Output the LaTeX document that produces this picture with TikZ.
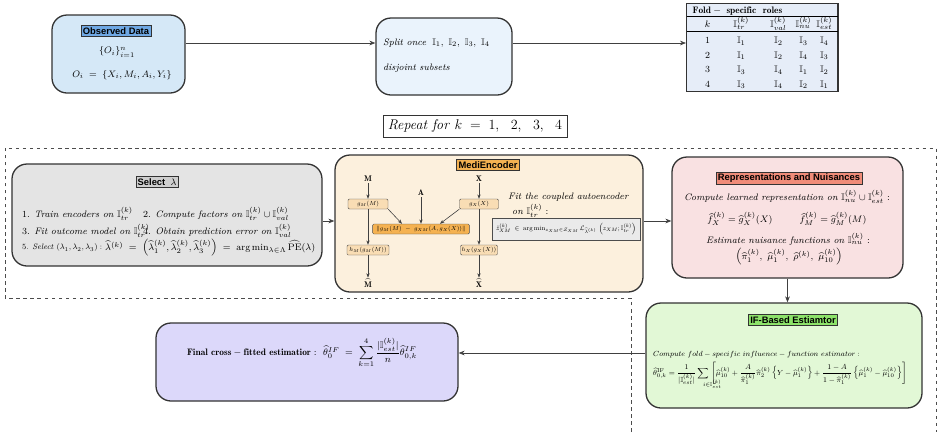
\documentclass[tikz,border=0pt]{standalone}
\usepackage{amsmath,amssymb,mathtools}
\usepackage{graphicx}
\usepackage{booktabs}
\usepackage{fontspec}
\setsansfont{Liberation Sans}
\usetikzlibrary{positioning,arrows.meta,calc}
\definecolor{obsfill}{HTML}{D5E8F7}
\definecolor{obstag}{HTML}{6FA8E4}
\definecolor{splitfill}{HTML}{EAF3FC}
\definecolor{rolefill}{HTML}{E6EDF8}
\definecolor{selfill}{HTML}{E4E4E4}
\definecolor{seltag}{HTML}{CFCFCF}
\definecolor{encfill}{HTML}{FCF0DD}
\definecolor{enctag}{HTML}{F5B251}
\definecolor{encpart}{HTML}{F9DDB4}
\definecolor{fitfill}{HTML}{EAEAEA}
\definecolor{repfill}{HTML}{F9E1E2}
\definecolor{reptag}{HTML}{F08C79}
\definecolor{iffill}{HTML}{E2F8D6}
\definecolor{iftag}{HTML}{8DE36A}
\definecolor{finfill}{HTML}{DCD8FA}
\tikzset{
  stagebox/.style={draw=black!80, line width=1.1pt, rounded corners=4.5mm, inner sep=0pt},
  tagbox/.style={draw=black!80, font=\sffamily\bfseries\footnotesize, inner sep=1.6pt},
  partbox/.style={draw=black!70, rounded corners=1pt, fill=encpart, font=\scriptsize,
    inner sep=1pt, minimum height=3mm},
  flowarrow/.style={-{Stealth[length=1.8mm,width=1.4mm]}, black!75, line width=0.6pt},
  encarrow/.style={-{Stealth[length=1.3mm,width=1mm]}, black!75, line width=0.5pt},
  boxtext/.style={font=\footnotesize, inner sep=0pt},
  varlabel/.style={font=\scriptsize, inner sep=1pt},
}
\newcommand{\foldset}[1]{\mathbb{I}_{#1}^{(k)}}
\newcommand{\partmath}[1]{\scalebox{0.72}{$#1$}}

\begin{document}
\begin{tikzpicture}[x=0.3mm, y=-0.3mm]
  \useasboundingbox (0,0) rectangle (942,432);
  % outline of the per-fold loop
  \draw[dashed, black!70, line width=0.6pt] (631,432) -- (631,298) -- (5,298) -- (5,148) -- (936,148) -- (936,432);

  % top row: data, split, fold roles
  \node[stagebox, fill=obsfill, minimum width=39.9mm, minimum height=23.4mm] (obs) at (118.5,54) {};
  \node[tagbox, fill=obstag] (obstitle) at (116,31) {Observed Data};
  \node[boxtext] (obsall) at (117,52) {$\{O_i\}_{i=1}^{n}$};
  \node[boxtext] (obsone) at (122,75) {$O_i \;=\; \{X_i, M_i, A_i, Y_i\}$};

  \node[stagebox, fill=splitfill, minimum width=40.8mm, minimum height=23.1mm] (split) at (444,56.5) {};
  \node[boxtext, anchor=west] (splitonce) at (383,43) {\textit{Split once} $\;\mathbb{I}_1,\ \mathbb{I}_2,\ \mathbb{I}_3,\ \mathbb{I}_4$};
  \node[boxtext, anchor=west] (splitdis) at (383,68) {\textit{disjoint subsets}};

  \node[draw=black!80, line width=1.1pt, fill=rolefill, inner sep=0pt, font=\footnotesize, anchor=north west] (roles) at (686,3) {%
    \renewcommand{\arraystretch}{1.3}%
    \begin{tabular}{@{\hspace{5.5mm}}c@{\hspace{6.9mm}}c@{\hspace{6.3mm}}c@{\hspace{2.7mm}}c@{\hspace{1.5mm}}c@{\hspace{1.7mm}}}
      \multicolumn{5}{@{\hspace{1.8mm}}l}{$\mathbf{Fold-\ specific\ \ roles}$}\\[-2pt]
      \specialrule{0.9pt}{0pt}{0pt}
      $k$ & $\foldset{tr}$ & $\foldset{val}$ & $\foldset{nu}$ & $\foldset{est}$\\
      \specialrule{0.9pt}{0pt}{1pt}
      1 & $\mathbb{I}_1$ & $\mathbb{I}_2$ & $\mathbb{I}_3$ & $\mathbb{I}_4$\\
      2 & $\mathbb{I}_1$ & $\mathbb{I}_2$ & $\mathbb{I}_4$ & $\mathbb{I}_3$\\
      3 & $\mathbb{I}_3$ & $\mathbb{I}_4$ & $\mathbb{I}_1$ & $\mathbb{I}_2$\\
      4 & $\mathbb{I}_3$ & $\mathbb{I}_4$ & $\mathbb{I}_2$ & $\mathbb{I}_1$
    \end{tabular}};

  \coordinate (toprow) at (0,43);
  \draw[flowarrow] (obs.east |- toprow) -- (split.west |- toprow);
  \draw[flowarrow] (split.east |- toprow) -- (roles.west |- toprow);

  \node[draw=black!80, font=\large, inner sep=2pt, minimum width=55.2mm, minimum height=6.6mm] (repeat) at (475,126) {\textit{Repeat for} $k \;=\; 1,\ \ 2,\ \ 3,\ \ 4$};

  % select lambda
  \node[stagebox, fill=selfill, minimum width=93mm, minimum height=30.6mm] (select) at (167,215) {};
  \node[tagbox, fill=seltag] (seltitle) at (157,182) {Select \ $\lambda$};
  \node[boxtext, anchor=west] (selone) at (22,214) {1. \textit{Train encoders on} $\foldset{tr}$};
  \node[boxtext, anchor=west] (seltwo) at (143,214) {2. \textit{Compute factors on} $\foldset{tr}\cup\foldset{val}$};
  \node[boxtext, anchor=west] (selthree) at (22,231) {3. \textit{Fit outcome model on} $\foldset{tr}$};
  \node[boxtext, anchor=west] (selfour) at (143,231) {4. \textit{Obtain prediction error on} $\foldset{val}$};
  \node[boxtext, anchor=west] (selfive) at (22,248) {\resizebox{24mm}{!}{5. \textit{Select} $(\lambda_1,\lambda_2,\lambda_3):$}};
  \node[boxtext, anchor=west] (selrule) at (105,248) {\resizebox{63mm}{!}{$\widehat{\lambda}^{(k)} \;=\; \left(\widehat{\lambda}_1^{(k)}, \widehat{\lambda}_2^{(k)}, \widehat{\lambda}_3^{(k)}\right) \;=\; \arg\min_{\lambda\in\Lambda}\widehat{\mathrm{PE}}(\lambda)$}};

  % MediEncoder
  \node[stagebox, fill=encfill, minimum width=92.4mm, minimum height=41.1mm] (enc) at (489,223.5) {};
  \node[tagbox, fill=enctag] (enctitle) at (488,165) {MediEncoder};
  \node[varlabel] (mvar) at (368,179) {$\mathbf{M}$};
  \node[varlabel] (xvar) at (479,179) {$\mathbf{X}$};
  \node[varlabel] (avar) at (421,193) {$\mathbf{A}$};
  \node[partbox, minimum width=12mm] (gm) at (368,204) {\partmath{g_M(M)}};
  \node[partbox, minimum width=11.7mm] (gx) at (479,204) {\partmath{g_X(X)}};
  \node[partbox, fill=enctag, minimum width=29mm] (gap) at (421,229) {\partmath{\|g_M(M)\;-\;g_{XM}(A, g_X(X))\|}};
  \node[partbox, minimum width=12.6mm] (hm) at (368,250) {\partmath{h_M(g_M(M))}};
  \node[partbox, minimum width=10.8mm] (hx) at (479,250) {\partmath{h_X(g_X(X))}};
  \node[varlabel] (mhat) at (368,283) {$\widehat{\mathbf{M}}$};
  \node[varlabel] (xhat) at (479,283) {$\widehat{\mathbf{X}}$};
  \draw[encarrow] (mvar) -- (gm);
  \draw[encarrow] (xvar) -- (gx);
  \draw[encarrow] (avar) -- (gap);
  \draw[encarrow] (gm.south east) -- ([xshift=-5.7mm]gap.north);
  \draw[encarrow] (gx.south west) -- ([xshift=5.7mm]gap.north);
  \draw[encarrow] (gm) -- (hm);
  \draw[encarrow] (gx) -- (hx);
  \draw[encarrow] (hm) -- (mhat);
  \draw[encarrow] (hx) -- (xhat);
  \node[boxtext, anchor=west] (fittext) at (508,197) {\textit{Fit the coupled autoencoder}};
  \node[boxtext, anchor=west] (fiton) at (512,211) {\textit{on} $\foldset{tr}$ :};
  \node[draw=black!70, fill=fitfill, font=\footnotesize, minimum width=44.4mm, minimum height=6.6mm, inner sep=1pt] (fitgoal) at (566,229) {\resizebox{42mm}{!}{$\hat{z}_{XM}^{(k)} \;\in\; \arg\min_{z_{XM}\in\mathcal{Z}_{XM}} \mathcal{L}_{\widehat{\lambda}^{(k)}}\,\left(z_{XM};\foldset{tr}\right)$}};

  % representations and nuisances
  \node[stagebox, fill=repfill, minimum width=69.3mm, minimum height=36.3mm] (rep) at (787.5,217.5) {};
  \node[tagbox, fill=reptag] (reptitle) at (789,178) {Representations and Nuisances};
  \node[boxtext] (repcomp) at (787,197) {\textit{Compute learned representation on} $\foldset{nu}\cup\foldset{est}$ :};
  \node[boxtext] (repfx) at (740,219) {$\widehat{f}_X^{(k)} = \widehat{g}_X^{(k)}(X)$};
  \node[boxtext] (repfm) at (833,219) {$\widehat{f}_M^{(k)} = \widehat{g}_M^{(k)}(M)$};
  \node[boxtext] (repest) at (788,239) {\textit{Estimate nuisance functions on} $\foldset{nu}$ :};
  \node[boxtext] (repnui) at (789,257) {$\left(\widehat{\pi}_1^{(k)},\ \widehat{\mu}_1^{(k)},\ \widehat{\rho}^{(k)},\ \widehat{\mu}_{10}^{(k)}\right)$};

  \coordinate (midrow) at (0,221);
  \draw[flowarrow] (select.east |- midrow) -- (enc.west |- midrow);
  \draw[flowarrow] (enc.east |- midrow) -- (rep.west |- midrow);

  % IF-based estimator
  \node[stagebox, fill=iffill, minimum width=82.8mm, minimum height=31.5mm] (ifest) at (784,355.5) {};
  \node[tagbox, fill=iftag] (iftitle) at (793,320) {IF-Based Estiamtor};
  \node[boxtext, anchor=west] (ifcomp) at (653,355) {\resizebox{62mm}{!}{$Compute\ fold-specific\ influence-function\ estimator:$}};
  \node[boxtext, anchor=west] (ifformula) at (653,376) {\resizebox{76mm}{!}{$\widehat{\theta}_{0,k}^{\mathrm{IF}} = \dfrac{1}{|\foldset{est}|}\displaystyle\sum_{\mathrlap{i\in\foldset{est}}}\,\left[\widehat{\mu}_{10}^{(k)} + \dfrac{A}{\widehat{\pi}_1^{(k)}}\widehat{\pi}_2^{(k)}\left\{Y-\widehat{\mu}_1^{(k)}\right\} + \dfrac{1-A}{1-\widehat{\pi}_1^{(k)}}\left\{\widehat{\mu}_1^{(k)}-\widehat{\mu}_{10}^{(k)}\right\}\right]$}};
  \draw[flowarrow] (rep.south) -- (rep.south |- ifest.north);

  % final estimator
  \node[stagebox, fill=finfill, minimum width=90.6mm, minimum height=23.4mm] (final) at (307,362) {};
  \node[boxtext] (finaltext) at (302,353) {$\mathbf{Final\ cross-fitted\ estimatior:}\ \ \widehat{\theta}_0^{IF} \;=\; \displaystyle\sum_{k=1}^{4}\frac{|\foldset{est}|}{n}\widehat{\theta}_{0,k}^{IF}$};
  \coordinate (lowrow) at (0,353);
  \draw[flowarrow] (ifest.west |- lowrow) -- (final.east |- lowrow);
\end{tikzpicture}
\end{document}
